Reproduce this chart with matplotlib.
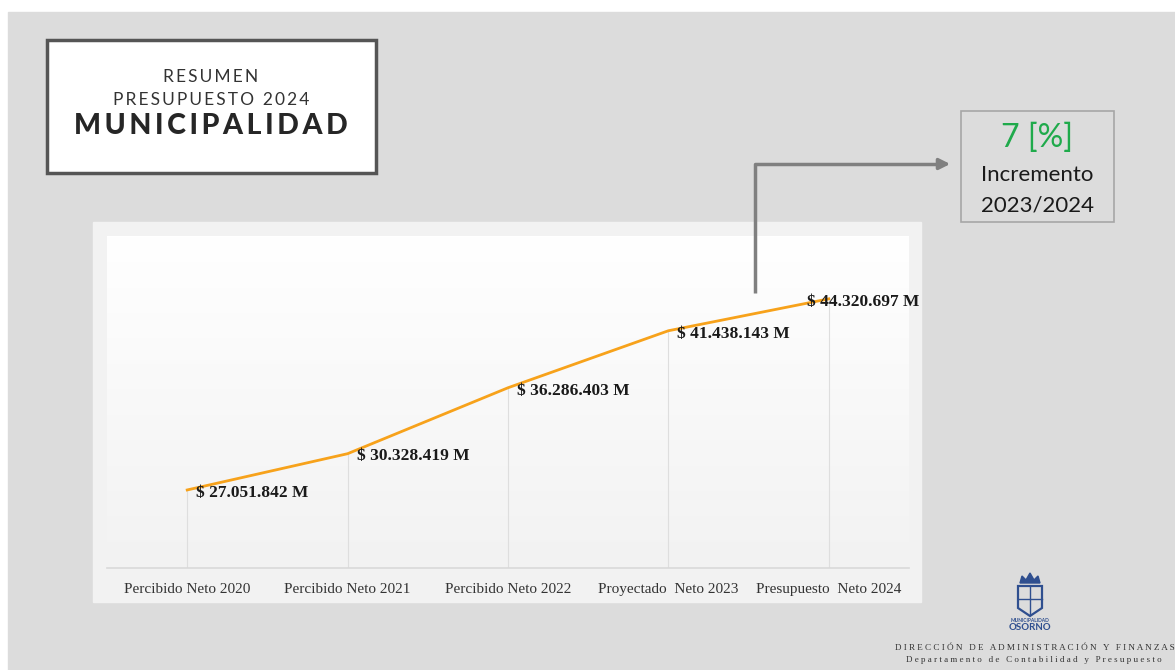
import numpy as np
import matplotlib.pyplot as plt
from matplotlib.patches import Rectangle, Polygon
from matplotlib.colors import LinearSegmentedColormap

# datos del grafico
categorias = ["Percibido Neto 2020", "Percibido Neto 2021", "Percibido Neto 2022",
              "Proyectado  Neto 2023", "Presupuesto  Neto 2024"]
montos = [27051842, 30328419, 36286403, 41438143, 44320697]
incremento = "7 [%]"
periodo = "2023/2024"

W, H = 1175, 670
SERIF = ['Liberation Serif', 'DejaVu Serif']
SANS = ['Lato', 'DejaVu Sans']


def espaciar(s, sep='\u2009'):
    return sep.join(s)


fig = plt.figure(figsize=(W / 100, H / 100), dpi=100)
fig.patch.set_facecolor('white')

# fondo de la lamina
bg = fig.add_axes([0, 0, 1, 1], zorder=0)
bg.set_xlim(0, W)
bg.set_ylim(H, 0)
bg.axis('off')
bg.add_patch(Rectangle((8, 12), W - 8, H - 12, color='#dcdcdc'))
bg.add_patch(Rectangle((93, 222), 828, 380, color='#f2f2f2'))

# cuadro del titulo
bg.add_patch(Rectangle((47, 40), 329, 133, fc='white', ec='#555555', lw=2.5))
bg.text(211, 77, espaciar("RESUMEN"), ha='center', va='center', fontsize=12.5,
        color='#333333', family=SANS)
bg.text(211, 100, espaciar("PRESUPUESTO 2024"), ha='center', va='center', fontsize=12.5,
        color='#333333', family=SANS)
bg.text(211, 126, espaciar("MUNICIPALIDAD"), ha='center', va='center', fontsize=20.5,
        fontweight='black', color='#262626', family=SANS)

# cuadro del incremento
bg.add_patch(Rectangle((961, 111), 153, 111, fc='#dcdcdc', ec='#a6a6a6', lw=1.2))
bg.text(1037, 138, incremento, ha='center', va='center', fontsize=23, color='#1faa4b', family=SANS)
bg.text(1037, 175, "Incremento", ha='center', va='center', fontsize=16, color='#1a1a1a', family=SANS)
bg.text(1037, 206, periodo, ha='center', va='center', fontsize=16, color='#1a1a1a', family=SANS)

# logo simplificado
azul = '#2f4f8f'
bg.add_patch(Polygon([[1020, 583], [1022, 576], [1026, 580], [1030, 573], [1034, 580],
                      [1038, 576], [1040, 583]], closed=True, fc=azul, ec=azul))
bg.add_patch(Polygon([[1018, 586], [1042, 586], [1042, 608], [1030, 616], [1018, 608]],
                     closed=True, fc='none', ec=azul, lw=1.6))
bg.plot([1030, 1030], [586, 614], color=azul, lw=1)
bg.plot([1018, 1042], [599, 599], color=azul, lw=1)
bg.text(1030, 620, "MUNICIPALIDAD", ha='center', va='center', fontsize=3.5, color=azul,
        fontweight='bold', family=SANS)
bg.text(1030, 627, "OSORNO", ha='center', va='center', fontsize=7, color=azul,
        fontweight='bold', family=SANS)

# pie de pagina
bg.text(895, 648, espaciar("DIRECCIÓN DE ADMINISTRACIÓN Y FINANZAS", ' '), ha='left', va='center',
        fontsize=6.6, color='#333333', family=SERIF)
bg.text(906, 660, espaciar("Departamento de Contabilidad y Presupuesto", ' '), ha='left', va='center',
        fontsize=6.5, color='#333333', family=SERIF)

# grafico de linea
ax = fig.add_axes([107 / W, 1 - 568 / H, 802 / W, 332 / H], zorder=1)
ax.patch.set_visible(False)
grad = LinearSegmentedColormap.from_list('g', ['#f2f2f2', '#ffffff'])
ax.imshow(np.linspace(0, 1, 256).reshape(-1, 1), cmap=grad, extent=[0, 1, 0, 1],
          transform=ax.transAxes, aspect='auto', origin='lower', zorder=0)

x = np.arange(len(categorias))
ax.set_xlim(-0.5, len(categorias) - 0.5)
ax.set_ylim(20e6, 50e6)
ax.vlines(x, 20e6, montos, color='#dedede', lw=0.8, zorder=1)
ax.axhline(20e6, color='#d9d9d9', lw=1.2, clip_on=False, zorder=1)
ax.plot(x, montos, color='#f7a21b', lw=2, zorder=2)

for i, v in enumerate(montos):
    etiqueta = "$ " + f"{v:,}".replace(",", ".") + " M"
    dx = 6.5 if i < len(montos) - 1 else -16
    ax.annotate(etiqueta, (i, v), xytext=(dx, -2), textcoords='offset points',
                ha='left', va='center', fontsize=12.5, fontweight='bold',
                family=SERIF, color='#1a1a1a', zorder=3)

ax.set_xticks(x)
ax.set_xticklabels(categorias, fontsize=11, family=SERIF, color='#333333')
ax.set_yticks([])
ax.tick_params(axis='x', length=0, pad=10.5)
for s in ax.spines.values():
    s.set_visible(False)

# flecha hacia el incremento
fg = fig.add_axes([0, 0, 1, 1], zorder=2)
fg.set_xlim(0, W)
fg.set_ylim(H, 0)
fg.axis('off')
fg.plot([755, 755, 940], [293, 164, 164], color='#808080', lw=2.5, solid_capstyle='butt')
fg.annotate('', xy=(953, 164), xytext=(935, 164),
            arrowprops=dict(arrowstyle='-|>', color='#808080', lw=2.5, mutation_scale=16))

fig.savefig('out.png', dpi=100)
